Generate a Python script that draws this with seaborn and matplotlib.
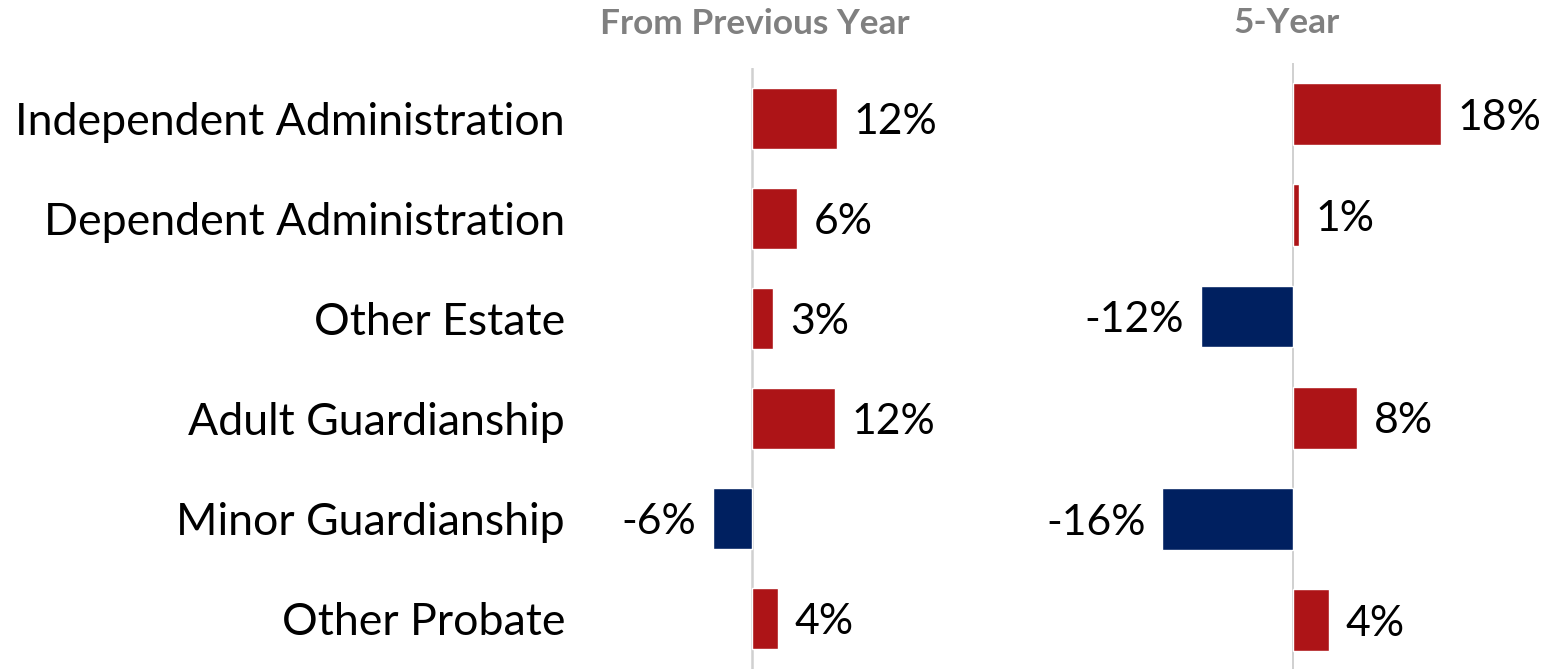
import matplotlib
matplotlib.use("Agg")
import matplotlib.pyplot as plt
from matplotlib.font_manager import FontProperties
import numpy as np
import pandas as pd
import seaborn as sns

# ---- data ----
categories = ["Independent Administration", "Dependent Administration", "Other Estate",
              "Adult Guardianship", "Minor Guardianship", "Other Probate"]
prev_year = [12.1, 6.4, 3.0, 11.9, -5.6, 3.7]
five_year = [18.4, 0.7, -11.6, 8.0, -16.4, 4.4]
panel_titles = ["From Previous Year", "5-Year"]

RED = "#AD1417"
NAVY = "#002060"
GRAY = "#808080"
LINE = "#d0d0d0"
FAMILY = ["Lato", "DejaVu Sans"]

W, H = 1568, 669
sns.set_theme(style="white")
plt.rcParams["font.family"] = FAMILY
fig = plt.figure(figsize=(W / 100, H / 100), dpi=100)
renderer = fig.canvas.get_renderer()


def size_for(s, target_px, weight="normal", base=30.0):
    fp = FontProperties(family=FAMILY, size=base, weight=weight)
    w, _, _ = renderer.get_text_width_height_descent(s, fp, ismath=False)
    return base * target_px / w


cat_fs = size_for("Independent Administration", 548)
val_fs = size_for("12%", 84)
title_fs = size_for("From Previous Year", 310, weight="bold")


def px_axes(x0, x1, ytop, ybot):
    return fig.add_axes([x0 / W, 1 - ybot / H, (x1 - x0) / W, (ybot - ytop) / H])


specs = [
    dict(vals=prev_year, x0=590, x1=1000, zero=752, scale=7.0, ytop=68, ybot=669,
         labels=True, lw=1.8),
    dict(vals=five_year, x0=1100, x1=1565, zero=1293.3, scale=8.0, ytop=63.4, ybot=671,
         labels=False, lw=1.4),
]

for spec in specs:
    ax = px_axes(spec["x0"], spec["x1"], spec["ytop"], spec["ybot"])
    vals = spec["vals"]
    df = pd.DataFrame({"category": categories, "value": vals,
                       "sign": ["pos" if v >= 0 else "neg" for v in vals]})
    sns.barplot(data=df, y="category", x="value", hue="sign",
                palette={"pos": RED, "neg": NAVY}, dodge=False, width=0.61,
                saturation=1, legend=False, orient="h", ax=ax)
    ax.set_xlim((spec["x0"] - spec["zero"]) / spec["scale"],
                (spec["x1"] - spec["zero"]) / spec["scale"])
    ax.set_ylim(5.5, -0.5)
    ax.axvline(0, color=LINE, lw=spec["lw"], zorder=0.5)
    for c in ax.containers:
        labs = ["" if np.isnan(v) else f"{v:.0f}%" for v in c.datavalues]
        texts = ax.bar_label(c, labels=labs, padding=12, fontsize=val_fs, color="black")
        for t in texts:
            t.set_verticalalignment("center_baseline")
    ax.set_xticks([])
    ax.set_xlabel("")
    ax.set_ylabel("")
    for s in ax.spines.values():
        s.set_visible(False)
    if spec["labels"]:
        ax.tick_params(axis="y", length=0, pad=18, labelsize=cat_fs, labelcolor="black")
    else:
        ax.tick_params(axis="y", length=0, labelleft=False)
    ax.set_facecolor("none")

fig.text(754.5 / W, 1 - 34 / H, panel_titles[0], ha="center", va="baseline",
         fontsize=title_fs, fontweight="bold", color=GRAY)
fig.text(1286.5 / W, 1 - 33 / H, panel_titles[1], ha="center", va="baseline",
         fontsize=title_fs, fontweight="bold", color=GRAY)

fig.savefig("out.png", dpi=100, facecolor="white")
